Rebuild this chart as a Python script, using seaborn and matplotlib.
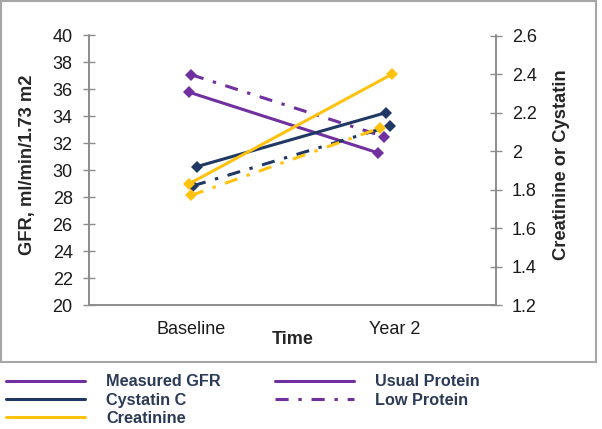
import pandas as pd
import seaborn as sns
import matplotlib.pyplot as plt
from matplotlib.lines import Line2D
from matplotlib.patches import Rectangle
from matplotlib.ticker import FuncFormatter

# data
times = ["Baseline", "Year 2"]
gfr_usual = [35.8, 31.3]
gfr_low = [37.1, 32.5]
cys_usual = [1.92, 2.20]
cys_low = [1.82, 2.13]
creat_usual = [1.83, 2.40]
creat_low = [1.77, 2.12]

purple = "#7030A0"
navy = "#1F3864"
yellow = "#FFC20E"
grey = "#8C8C8C"
text_col = "#2B3A57"
dashdot = (0, (4.3, 3.2, 1.1, 3.2))

sns.set_style("white")
plt.rcParams["font.family"] = ["Liberation Sans", "DejaVu Sans"]

# small horizontal shift of each series' markers (as in the original)
nudge = {
    "gfr_usual": (-0.01, -0.08), "gfr_low": (0.0, -0.05),
    "cys_usual": (0.03, -0.04), "cys_low": (0.01, -0.02),
    "creat_usual": (-0.01, -0.01), "creat_low": (0.0, -0.07),
}

series = [
    ("gfr_usual", gfr_usual, purple, "-", "left"),
    ("gfr_low", gfr_low, purple, dashdot, "left"),
    ("cys_usual", cys_usual, navy, "-", "right"),
    ("cys_low", cys_low, navy, dashdot, "right"),
    ("creat_usual", creat_usual, yellow, "-", "right"),
    ("creat_low", creat_low, yellow, dashdot, "right"),
]

rows = []
for name, vals, _, _, _ in series:
    for i, t in enumerate(times):
        rows.append({"series": name, "time": t, "x": i + nudge[name][i], "value": vals[i]})
df = pd.DataFrame(rows)

fig = plt.figure(figsize=(6.02, 4.29), dpi=100)
ax = fig.add_axes([89.3 / 602, 1 - 305.3 / 429, 406.7 / 602, 269.8 / 429])
ax2 = ax.twinx()

for name, vals, col, ls, side in series:
    target = ax if side == "left" else ax2
    d = df[df["series"] == name]
    sns.lineplot(data=d, x="x", y="value", ax=target, color=col, linestyle=ls,
                 linewidth=2.2, marker="D", markersize=6, markeredgewidth=0,
                 sort=False, legend=False)

ax.set_xlim(-0.5, 1.5)
ax.set_ylim(20, 40)
ax2.set_ylim(1.2, 2.6)
ax.set_yticks(range(20, 41, 2))
ax2.set_yticks([1.2, 1.4, 1.6, 1.8, 2.0, 2.2, 2.4, 2.6])
ax2.yaxis.set_major_formatter(FuncFormatter(lambda v, p: f"{v:g}"))

ax.set_xticks([-0.5, 0.5, 1.5])
ax.set_xticklabels([])
ax.set_xticks([0, 1], minor=True)
ax.set_xticklabels(times, minor=True)
ax.tick_params(axis="x", which="minor", length=0, pad=11, labelsize=13, labelcolor="#1a1a1a")
ax.tick_params(axis="x", which="major", direction="inout", length=9, color=grey, width=1)
ax.tick_params(axis="y", direction="inout", length=9, color=grey, width=1, pad=7.5,
               labelsize=13, labelcolor="#1a1a1a")
ax2.tick_params(axis="y", direction="inout", length=9, color=grey, width=1, pad=7,
                labelsize=13, labelcolor="#1a1a1a")

for a in (ax, ax2):
    for s in a.spines.values():
        s.set_color(grey)
        s.set_linewidth(1.2)
    a.spines["top"].set_visible(False)
    a.grid(False)

ax.set_xlabel("Time", fontsize=13, fontweight="bold")
ax.xaxis.set_label_coords(0.5, -0.095)
ax.set_ylabel("GFR, ml/min/1.73 m2", fontsize=13.2, fontweight="bold")
ax.yaxis.set_label_coords(-0.151, 0.52)
ax.yaxis.label.set_va("center")
ax2.set_ylabel("Creatinine or Cystatin", fontsize=13.2, fontweight="bold")
ax2.yaxis.set_label_coords(1.162, 0.52)
ax2.yaxis.label.set_va("center")

# outer frame around the chart area
fig.patches.append(Rectangle((1 / 602, 1 - 362 / 429), 595 / 602, 361 / 429,
                             transform=fig.transFigure, fill=False,
                             edgecolor="#A6A6A6", linewidth=1.5))

handles = [
    Line2D([], [], color=purple, lw=2.2),
    Line2D([], [], color=navy, lw=2.2),
    Line2D([], [], color=yellow, lw=2.2),
    Line2D([], [], color=purple, lw=2.2),
    Line2D([], [], color=purple, lw=2.2, linestyle=dashdot),
]
labels = ["Measured GFR", "Cystatin C", "Creatinine", "Usual Protein", "Low Protein"]
leg = fig.legend(handles, labels, ncol=2, loc="upper left",
                 bbox_to_anchor=(6 / 602, 1 - 374.5 / 429), frameon=False,
                 borderpad=0, borderaxespad=0, handlelength=4.86, handletextpad=1.3,
                 columnspacing=3.35, labelspacing=0.19,
                 prop={"weight": "bold", "size": 11.7})
for t in leg.get_texts():
    t.set_color(text_col)

fig.savefig("out.png", dpi=100)
